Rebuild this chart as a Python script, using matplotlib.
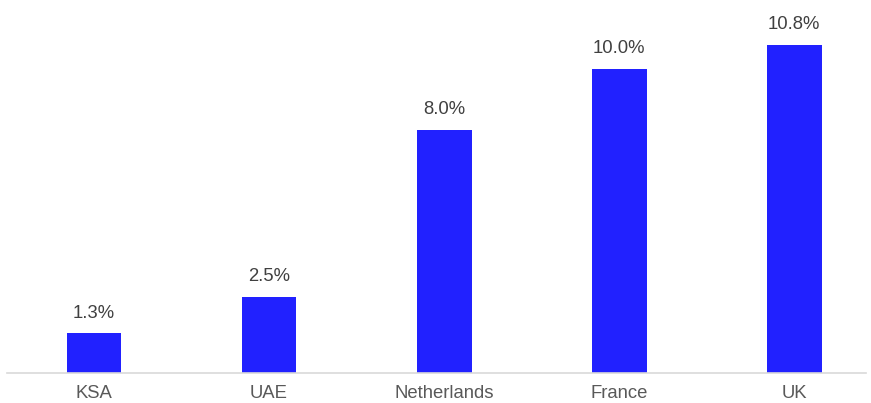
import matplotlib
matplotlib.use("Agg")
import matplotlib.pyplot as plt

categories = ["KSA", "UAE", "Netherlands", "France", "UK"]
values = [1.3, 2.5, 8.0, 10.0, 10.8]
labels = ["1.3%", "2.5%", "8.0%", "10.0%", "10.8%"]

plt.rcParams['font.family'] = ['Liberation Sans', 'DejaVu Sans']

fig = plt.figure(figsize=(8.71, 4.03), dpi=100)
W, H = 871, 403
ax = fig.add_axes([7 / W, (H - 373) / H, (866 - 7) / W, 373 / H])

x = list(range(len(categories)))
bars = ax.bar(x, values, width=0.314, color="#2121FF", zorder=2)
for xi, v, lab in zip(x, values, labels):
    ax.annotate(lab, (xi, v), xytext=(0, 8.3), textcoords="offset points",
                ha="center", va="bottom", fontsize=13.3, color="#404040")

ax.set_xlim(-0.497, 4.411)
ax.set_ylim(0, 12.27)
ax.set_xticks(x)
ax.set_xticklabels(categories, fontsize=13.3, color="#595959")
ax.tick_params(axis="x", length=0, pad=8.5)
ax.set_yticks([])
for s in ["top", "right", "left"]:
    ax.spines[s].set_visible(False)
ax.spines["bottom"].set_color("#D9D9D9")
ax.spines["bottom"].set_linewidth(1.2)
ax.patch.set_alpha(0)

fig.savefig("out.png", dpi=100)
